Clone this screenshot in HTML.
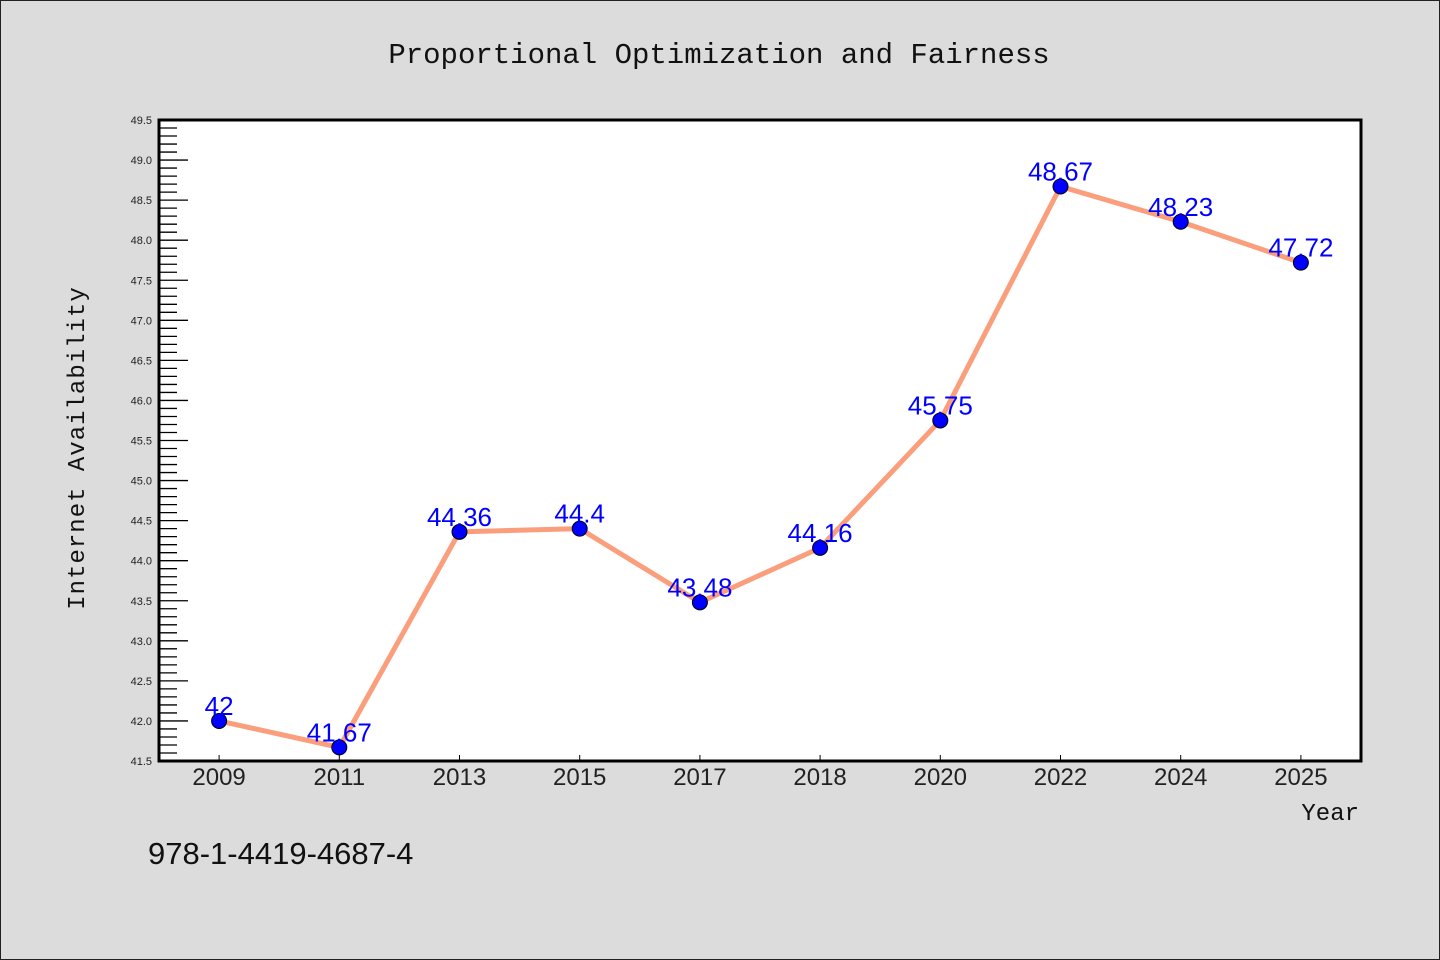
<!DOCTYPE html>
<html><head><meta charset="utf-8"><style>
html,body{margin:0;padding:0;background:#dcdcdc;}
svg{display:block;}
</style></head><body>
<svg id="chart" width="1440" height="960" xmlns="http://www.w3.org/2000/svg">
<rect x="0.5" y="0.5" width="1439" height="959" fill="#dcdcdc" stroke="#222"/>
<text x="719" y="63" text-anchor="middle" font-family="'Liberation Mono', monospace" font-size="29" fill="#111">Proportional Optimization and Fairness</text>
<rect x="159" y="120" width="1202" height="641" fill="#fff"/>
<g id="yaxis"></g>
<g id="xaxis"></g>
<g id="series"></g>
<rect x="159" y="120" width="1202" height="641" fill="none" stroke="#000" stroke-width="3"/>
<text transform="translate(84,448) rotate(-90)" text-anchor="middle" font-family="'Liberation Mono', monospace" font-size="24" fill="#111" letter-spacing="1">Internet Availability</text>
<text x="1359" y="820" text-anchor="end" font-family="'Liberation Mono', monospace" font-size="24" fill="#111">Year</text>
<text x="148" y="864" font-family="'Liberation Sans', sans-serif" font-size="31" fill="#111">978-1-4419-4687-4</text>
</svg>
<script>
const categories = ["2009","2011","2013","2015","2017","2018","2020","2022","2024","2025"];
const values = [42, 41.67, 44.36, 44.4, 43.48, 44.16, 45.75, 48.67, 48.23, 47.72];
const valueLabels = ["42","41.67","44.36","44.4","43.48","44.16","45.75","48.67","48.23","47.72"];
const yTicks = ["41.5","42.0","42.5","43.0","43.5","44.0","44.5","45.0","45.5","46.0","46.5","47.0","47.5","48.0","48.5","49.0","49.5"];
const NS="http://www.w3.org/2000/svg";
const L=159,R=1361,T=120,B=761,yMin=41.5,yMax=49.5;
function y(v){return B-(v-yMin)/(yMax-yMin)*(B-T);}
function x(i){const bw=(R-L)/categories.length;return L+bw*(i+0.5);}
function mk(tag,attrs,parent){const e=document.createElementNS(NS,tag);for(const k in attrs)e.setAttribute(k,attrs[k]);parent.appendChild(e);return e;}
const ya=document.getElementById('yaxis'),xa=document.getElementById('xaxis'),sg=document.getElementById('series');
for(let v=yMin;v<=yMax+1e-6;v+=0.1){
  const yy=y(v);const major=Math.abs(v*2-Math.round(v*2))<1e-6;
  const t=mk('line',{x1:L,x2:L+(major?29:18),y1:yy,y2:yy,stroke:'#000','stroke-width':1.3},ya);
  
  
}
yTicks.forEach(s=>{
  const t=mk('text',{x:152,y:y(parseFloat(s))+4,'text-anchor':'end','font-family':'Liberation Sans, sans-serif','font-size':11,fill:'#222'},ya);
  t.textContent=s;
  
  
});
categories.forEach((c,i)=>{
  const tk=mk('line',{x1:x(i),x2:x(i),y1:B,y2:B-6,stroke:'#000','stroke-width':1},xa);
  
  
  const t=mk('text',{x:x(i),y:785,'text-anchor':'middle','font-family':'Liberation Sans, sans-serif','font-size':24,fill:'#222'},xa);
  t.textContent=c;
  
  
});
const pts=values.map((v,i)=>x(i)+','+y(v)).join(' ');
const pl=mk('polyline',{points:pts,fill:'none',stroke:'#fa9e7c','stroke-width':5,'stroke-linejoin':'round'},sg);


values.forEach((v,i)=>{
  const c=mk('circle',{cx:x(i),cy:y(v),r:7.5,fill:'#0000ff',stroke:'#000','stroke-width':1},sg);
  
  
});
values.forEach((v,i)=>{
  const t=mk('text',{x:x(i),y:y(v)-6,'text-anchor':'middle','font-family':'Liberation Sans, sans-serif','font-size':26,fill:'#0000ff'},sg);
  t.textContent=valueLabels[i];
  
  
});
</script>
</body></html>
